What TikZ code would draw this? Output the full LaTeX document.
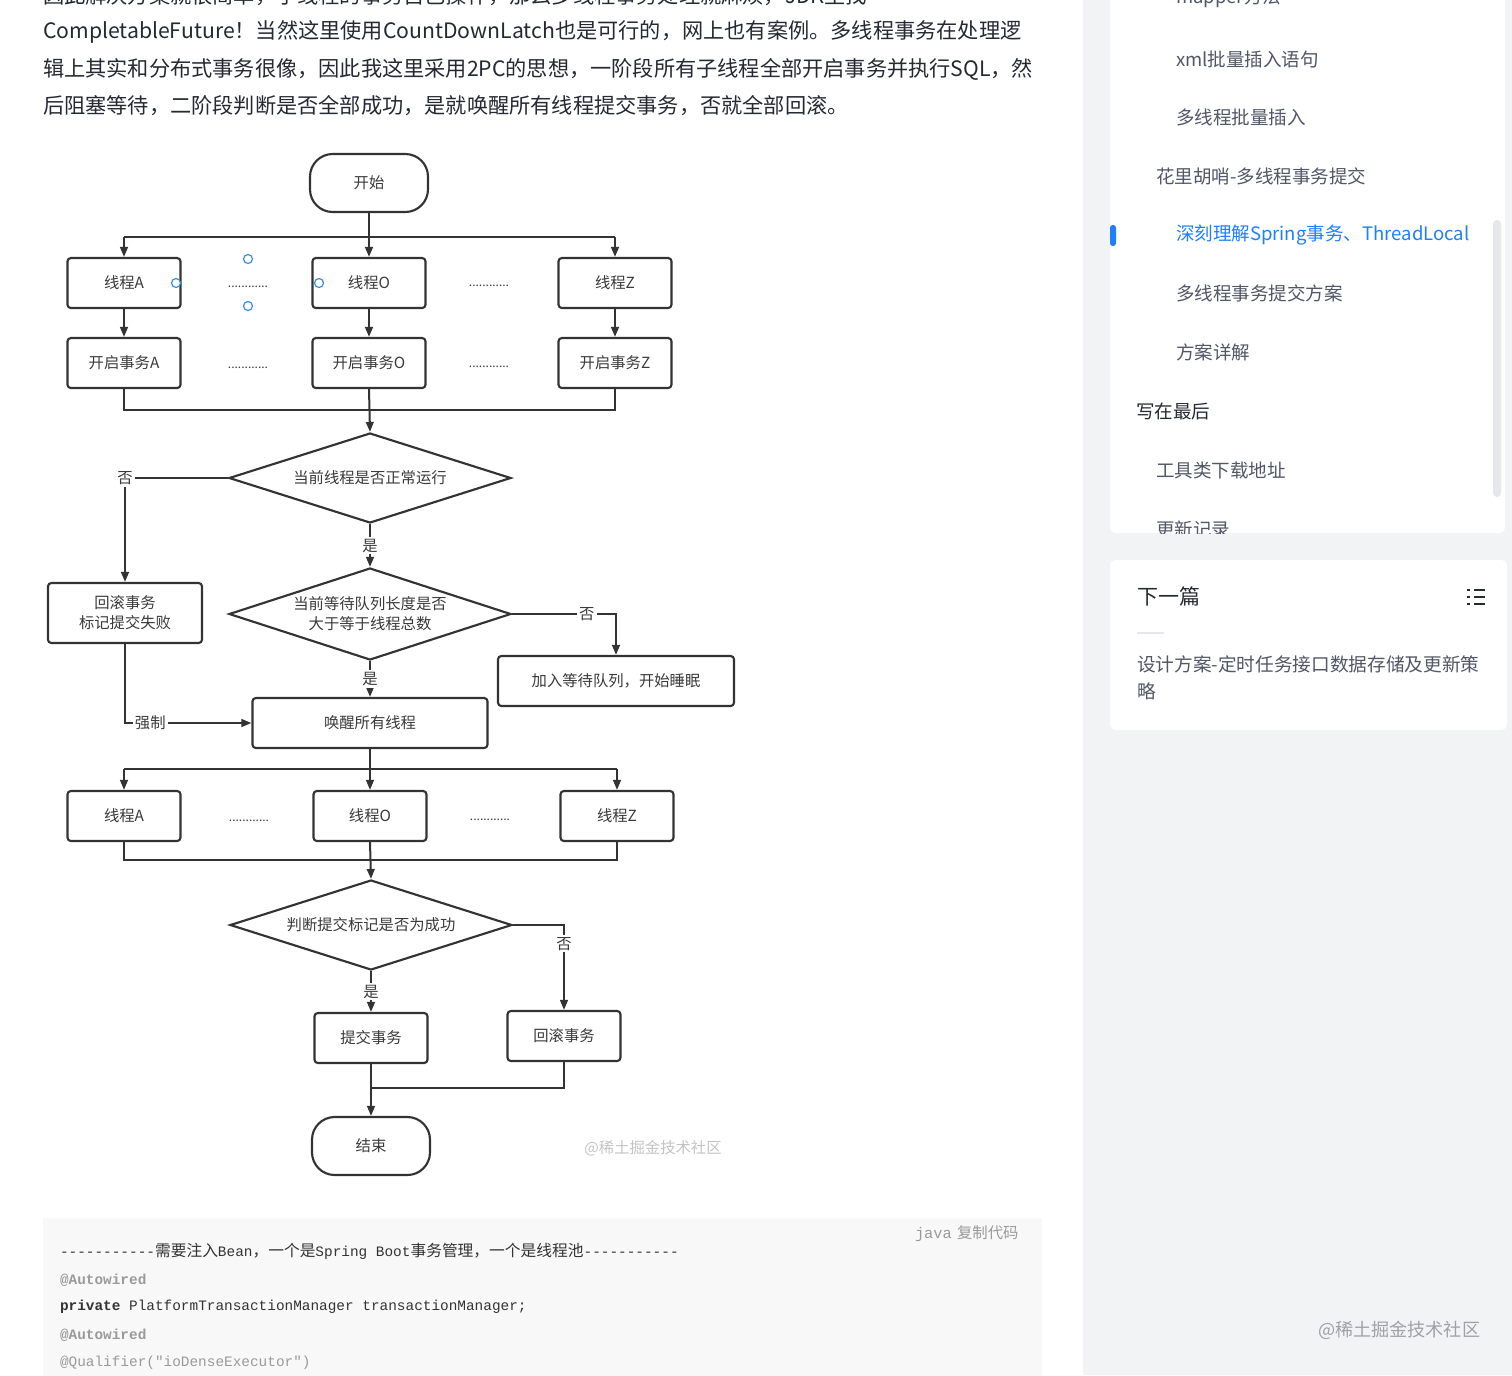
\documentclass[tikz,border=0pt]{standalone}
\usepackage{fontspec}
\setmainfont{Noto Sans CJK SC}
\newfontfamily\mono{Liberation Mono}
\usetikzlibrary{arrows.meta,shapes.geometric}
\definecolor{lc}{HTML}{333333}
\definecolor{tc}{HTML}{3A3A3A}
\definecolor{bodyc}{HTML}{252933}
\definecolor{sidec}{HTML}{515767}
\definecolor{jblue}{HTML}{1E80FF}
\definecolor{pagebg}{HTML}{F2F3F5}
\definecolor{codebg}{HTML}{F8F8F9}
\definecolor{hblue}{HTML}{3A8EE6}
\definecolor{wmc}{HTML}{C4C4C4}
\definecolor{wm2}{HTML}{9EA1A8}
\definecolor{anno}{HTML}{9A9A9A}
\definecolor{scrollc}{HTML}{E6E7EB}
\newdimen\pxu \pxu=0.75pt
\newcommand\ccjk{\fontsize{11.8pt}{13pt}\selectfont}
\tikzset{
  ln/.style={draw=lc, line width=1.5pt},
  arr/.style={ln, -{Triangle[length=7.5pt,width=5.8pt]}},
  fct/.style={font=\fontsize{11.5pt}{14pt}\selectfont, text=tc},
  box/.style={fct, draw=lc, line width=1.6pt, rounded corners=2.5pt, fill=white,
    minimum width=113\pxu, minimum height=50\pxu, inner sep=0, align=center},
  term/.style={fct, draw=lc, line width=1.6pt, rounded corners=17pt, fill=white,
    minimum width=118\pxu, minimum height=58\pxu, inner sep=0},
  dia/.style={fct, diamond, draw=lc, line width=1.6pt, aspect=3.1, inner sep=0,
    minimum width=282\pxu, minimum height=90\pxu, align=center},
  lbl/.style={fct, fill=white, inner sep=1.5pt},
  dotsn/.style={font=\fontsize{9pt}{10pt}\selectfont, text=tc, inner sep=0},
  handle/.style={circle, draw=hblue, line width=0.9pt, fill=white, minimum size=9\pxu, inner sep=0},
  txtw/.style={anchor=west, inner sep=0, outer sep=0},
  bodyt/.style={txtw, font=\fontsize{15.9pt}{20pt}\selectfont, text=bodyc},
  sidet/.style={txtw, font=\fontsize{13.9pt}{17pt}\selectfont, text=sidec},
  codet/.style={txtw, font=\fontsize{10.8pt}{13pt}\selectfont, text=lc},
}
\begin{document}
\begin{tikzpicture}[x=0.75pt,y=-0.75pt]
\path[use as bounding box] (0,0) rectangle (1512,1375);
% backgrounds
\fill[white] (0,0) rectangle (1083,1375);
\fill[pagebg] (1083,0) rectangle (1512,1375);
\fill[white, rounded corners=4pt] (1110,-20) rectangle (1505,533);
\fill[white, rounded corners=4pt] (1110,560) rectangle (1507,730);
\fill[codebg] (43,1218) rectangle (1042,1390);

% body text
\node[bodyt] (p0) at (43,-4) {因此解决方案就很简单，子线程的事务自己操作，那么多线程事务处理就麻烦，JDK里找};
\node[bodyt] (p1) at (43,32) {CompletableFuture！当然这里使用CountDownLatch也是可行的，网上也有案例。多线程事务在处理逻};
\node[bodyt] (p2) at (43,69) {辑上其实和分布式事务很像，因此我这里采用2PC的思想，一阶段所有子线程全部开启事务并执行SQL，然};
\node[bodyt] (p3) at (43,106) {后阻塞等待，二阶段判断是否全部成功，是就唤醒所有线程提交事务，否就全部回滚。};

% flowchart nodes
\node[term] (start) at (369,183) {开始};
\node[box] (tA1) at (124,283) {线程A};
\node[box] (tO1) at (369,283) {线程O};
\node[box] (tZ1) at (615,283) {线程Z};
\node[box] (sA) at (124,363) {开启事务A};
\node[box] (sO) at (369,363) {开启事务O};
\node[box] (sZ) at (615,363) {开启事务Z};
\node[dia] (d1) at (370,478) {当前线程是否正常运行};
\node[box, minimum width=154\pxu, minimum height=60\pxu, font=\fontsize{11.5pt}{15pt}\selectfont] (rb) at (125,613) {回滚事务\\标记提交失败};
\node[dia, minimum height=92\pxu, font=\fontsize{11.5pt}{15pt}\selectfont] (d2) at (370,614) {当前等待队列长度是否\\大于等于线程总数};
\node[box, minimum width=236\pxu] (wait) at (616,681) {加入等待队列，开始睡眠};
\node[box, minimum width=235\pxu] (wake) at (370,723) {唤醒所有线程};
\node[box] (tA2) at (124,816) {线程A};
\node[box] (tO2) at (370,816) {线程O};
\node[box] (tZ2) at (617,816) {线程Z};
\node[dia] (d3) at (371,925) {判断提交标记是否为成功};
\node[box] (commit) at (371,1038) {提交事务};
\node[box] (rb2) at (564,1036) {回滚事务};
\node[term] (finish) at (371,1146) {结束};

\node[dotsn] (dt1) at (248,287) {............};
\node[dotsn] (dt2) at (489,286) {............};
\node[dotsn] (dt3) at (248,368) {............};
\node[dotsn] (dt4) at (489,367) {............};
\node[dotsn] (dt5) at (249,821) {............};
\node[dotsn] (dt6) at (490,820) {............};

% connectors
\coordinate (j1) at (369,237);
\draw[ln] (start.south) -- (j1);
\draw[ln] (tA1.north |- j1) -- (tZ1.north |- j1);
\draw[arr] (tA1.north |- j1) -- (tA1.north);
\draw[arr] (j1) -- (tO1.north);
\draw[arr] (tZ1.north |- j1) -- (tZ1.north);
\draw[arr] (tA1) -- (sA);
\draw[arr] (tO1) -- (sO);
\draw[arr] (tZ1) -- (sZ);
\coordinate (j2) at (369,410);
\draw[ln] (sA.south) -- (sA.south |- j2) -- (sZ.south |- j2) -- (sZ.south);
\draw[arr] (sO.south) -- (d1.north);
\draw[arr] (d1.west) -| node[lbl,pos=0.5] (n1) {否} (rb.north);
\draw[arr] (d1.south) -- node[lbl] (y1) {是} (d2.north);
\draw[arr] (d2.east) -| node[lbl,pos=0.36] (n2) {否} (wait.north);
\draw[arr] (d2.south) -- node[lbl] (y2) {是} (wake.north);
\draw[arr] (rb.south) |- node[lbl,pos=0.6] (force) {强制} (wake.west);
\coordinate (j3) at (370,769);
\draw[ln] (wake.south) -- (j3);
\draw[ln] (tA2.north |- j3) -- (tZ2.north |- j3);
\draw[arr] (tA2.north |- j3) -- (tA2.north);
\draw[arr] (j3) -- (tO2.north);
\draw[arr] (tZ2.north |- j3) -- (tZ2.north);
\coordinate (j4) at (370,860);
\draw[ln] (tA2.south) -- (tA2.south |- j4) -- (tZ2.south |- j4) -- (tZ2.south);
\draw[arr] (tO2.south) -- (d3.north);
\draw[arr] (d3.east) -| node[lbl,pos=0.61] (n3) {否} (rb2.north);
\draw[arr] (d3.south) -- node[lbl] (y3) {是} (commit.north);
\coordinate (j5) at (371,1088);
\draw[arr] (commit.south) -- (finish.north);
\draw[ln] (rb2.south) |- (j5);

% selection handles
\node[handle] (h1) at (248,259) {};
\node[handle] (h2) at (248,306) {};
\node[handle] (h3) at (176,283) {};
\node[handle] (h4) at (319,283) {};

\node[font=\fontsize{11.5pt}{14pt}\selectfont, text=wmc, inner sep=0] (wm1) at (653,1148) {@稀土掘金技术社区};

% code block
\node[txtw, font=\fontsize{11.5pt}{13pt}\selectfont, text=anno] (lang) at (915,1234) {{\mono java}\hspace{4pt}复制代码};
\node[codet] (c1) at (60,1251) {{\mono -----------}{\ccjk 需要注入}{\mono Bean}{\ccjk ，一个是}{\mono Spring Boot}{\ccjk 事务管理，一个是线程池}{\mono -----------}};
\node[codet, text=anno] (c2) at (60,1280) {\mono\bfseries @Autowired};
\node[codet] (c3) at (60,1307) {\mono{\bfseries private} PlatformTransactionManager transactionManager;};
\node[codet, text=anno] (c4) at (60,1335) {\mono\bfseries @Autowired};
\node[codet, text=anno] (c5) at (60,1363) {\mono @Qualifier("ioDenseExecutor")};

% sidebar
\begin{scope}
\clip (1110,-20) rectangle (1505,533);
\node[sidet] (s0) at (1176,-2) {mapper方法};
\node[sidet] (s1) at (1176,59) {xml批量插入语句};
\node[sidet] (s2) at (1176,117) {多线程批量插入};
\node[sidet] (s3) at (1156,176) {花里胡哨-多线程事务提交};
\node[sidet, text=jblue] (s4) at (1176,235) {深刻理解Spring事务、ThreadLocal};
\node[sidet] (s5) at (1176,293) {多线程事务提交方案};
\node[sidet] (s6) at (1176,352) {方案详解};
\node[sidet, text=bodyc] (s7) at (1136,411) {写在最后};
\node[sidet] (s8) at (1156,470) {工具类下载地址};
\node[sidet] (s9) at (1156,529) {更新记录};
\end{scope}
\fill[scrollc, rounded corners=3pt] (1493,220) rectangle (1501,497);
\fill[jblue, rounded corners=2pt] (1110,225) rectangle (1116,246);

\node[txtw, font=\fontsize{15.75pt}{19pt}\selectfont, text=bodyc] (next) at (1137,596) {下一篇};
\draw[line width=1.5pt, bodyc] (1467,590) -- (1470,590) (1474,590) -- (1485,590)
  (1467,597) -- (1470,597) (1474,597) -- (1485,597)
  (1467,604) -- (1470,604) (1474,604) -- (1485,604);
\draw[line width=1.5pt, scrollc] (1137,633) -- (1164,633);
\node[sidet, font=\fontsize{14pt}{17pt}\selectfont] (nx1) at (1137,664) {设计方案-定时任务接口数据存储及更新策};
\node[sidet, font=\fontsize{14pt}{17pt}\selectfont] (nx2) at (1137,691) {略};
\node[sidet, text=wm2, font=\fontsize{13.6pt}{16pt}\selectfont] (wm2n) at (1318,1330) {@稀土掘金技术社区};
\end{tikzpicture}
\end{document}
